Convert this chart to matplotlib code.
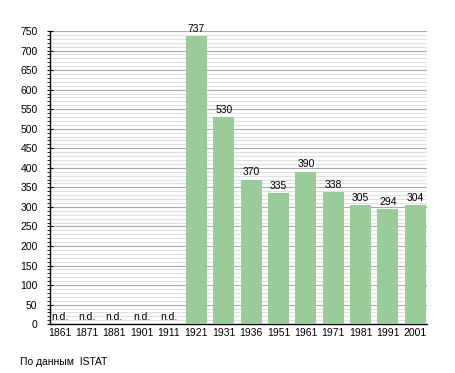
import matplotlib
matplotlib.use("Agg")
import matplotlib.pyplot as plt
from matplotlib.ticker import MultipleLocator

plt.rcParams['font.family'] = ['Liberation Sans', 'DejaVu Sans']

years = ["1861", "1871", "1881", "1901", "1911", "1921", "1931", "1936",
         "1951", "1961", "1971", "1981", "1991", "2001"]
values = [None, None, None, None, None, 737, 530, 370, 335, 390, 338, 305, 294, 304]
source = "По данным  ISTAT"

fig = plt.figure(figsize=(4.55, 3.73), dpi=100)
ax = fig.add_axes([0.110, 0.131, 0.828, 0.786])

x = list(range(len(years)))
heights = [v if v is not None else 0 for v in values]
ax.bar(x, heights, width=0.77, color="#99cc99", zorder=3)
for i, v in enumerate(values):
    if v is None:
        ax.text(i, 5, "n.d.", ha="center", va="bottom", fontsize=7.5, zorder=4)
    else:
        ax.text(i, v + 6, str(v), ha="center", va="bottom", fontsize=7.5, zorder=4)

ax.set_xlim(-0.35, 13.42)
ax.set_ylim(0, 750)
ax.yaxis.set_major_locator(MultipleLocator(50))
ax.yaxis.set_minor_locator(MultipleLocator(10))
ax.grid(which="major", axis="y", color="#aaaaaa", linewidth=0.8, zorder=1)
ax.grid(which="minor", axis="y", color="#e0e0e0", linewidth=0.8, zorder=0)
ax.set_xticks(x)
ax.set_xticklabels(years)
ax.tick_params(axis="x", length=0, labelsize=7.5, pad=3)
ax.tick_params(axis="y", which="major", length=4, direction="inout", labelsize=7.5, pad=7)
ax.tick_params(axis="y", which="minor", length=2, direction="out")
for s in ["top", "right"]:
    ax.spines[s].set_visible(False)
ax.spines["left"].set_linewidth(1.0)
ax.spines["bottom"].set_linewidth(1.0)

fig.text(20 / 455, 1 - 362 / 373, source, fontsize=7.5, va="center", ha="left")

fig.savefig("out.png", dpi=100)
